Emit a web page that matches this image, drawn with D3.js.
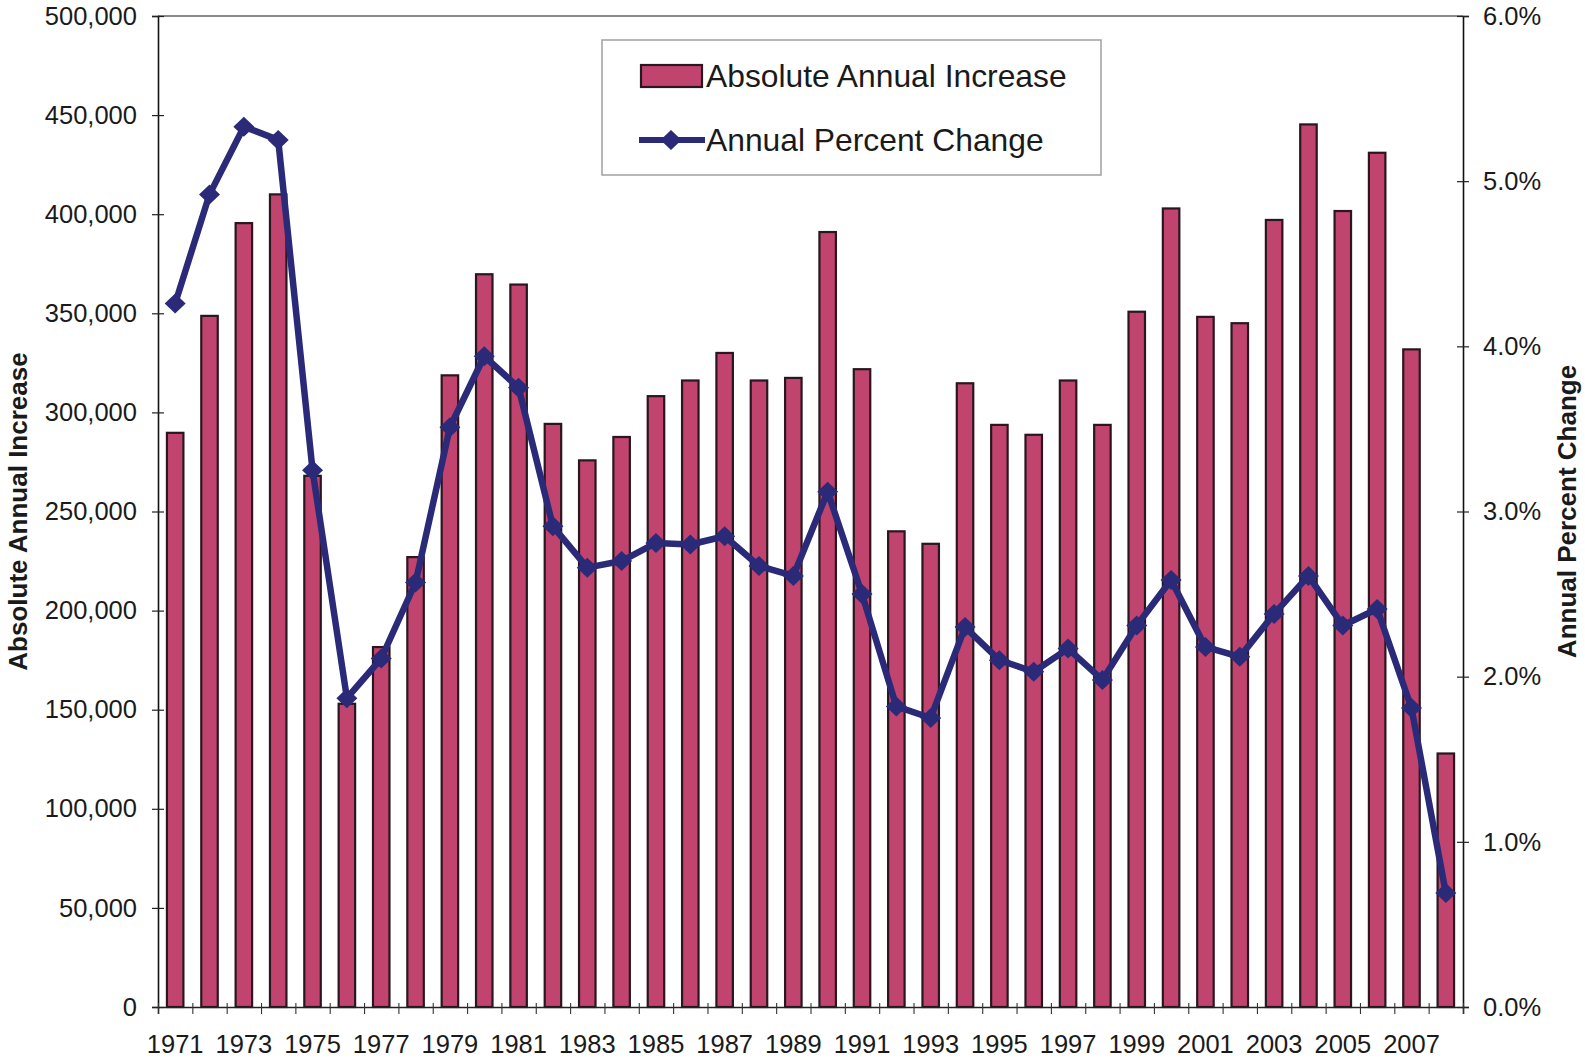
<!DOCTYPE html>
<html>
<head>
<meta charset="utf-8">
<script src="https://cdn.jsdelivr.net/npm/d3@7"></script>
<style>
  html, body { margin: 0; padding: 0; background: #fff; }
  svg { display: block; font-family: "Liberation Sans", Arial, Helvetica, sans-serif; }
</style>
</head>
<body>
<svg id="chart" width="1585" height="1062"></svg>
<script>
// Years shown on the category axis
const years = [1971, 1972, 1973, 1974, 1975, 1976, 1977, 1978, 1979, 1980,
               1981, 1982, 1983, 1984, 1985, 1986, 1987, 1988, 1989, 1990,
               1991, 1992, 1993, 1994, 1995, 1996, 1997, 1998, 1999, 2000,
               2001, 2002, 2003, 2004, 2005, 2006, 2007, 2008];

// Absolute annual increase (persons)
const absoluteIncrease = [289700, 348700, 395500, 410000, 268000, 153000, 181600, 227000, 318700, 369700,
                          364500, 294200, 275800, 287600, 308200, 316100, 330000, 316100, 317400, 391000,
                          321800, 240000, 233700, 314700, 293700, 288700, 316100, 293700, 350800, 402900,
                          348200, 345000, 397100, 445300, 401600, 431000, 331800, 127900];

// Annual percent change (%)
const percentChange = [4.26, 4.92, 5.33, 5.25, 3.25, 1.87, 2.11, 2.57, 3.51, 3.94,
                       3.75, 2.91, 2.66, 2.70, 2.81, 2.80, 2.85, 2.67, 2.61, 3.12,
                       2.50, 1.82, 1.75, 2.30, 2.10, 2.03, 2.17, 1.98, 2.31, 2.585,
                       2.18, 2.12, 2.38, 2.61, 2.31, 2.41, 1.81, 0.69];

// Axis ticks
const leftTicks = [0, 50000, 100000, 150000, 200000, 250000, 300000, 350000, 400000, 450000, 500000];
const rightTicks = [0, 1, 2, 3, 4, 5, 6];
const yearLabels = [1971, 1973, 1975, 1977, 1979, 1981, 1983, 1985, 1987, 1989,
                    1991, 1993, 1995, 1997, 1999, 2001, 2003, 2005, 2007];

const seriesNames = ["Absolute Annual Increase", "Annual Percent Change"];
const axisTitles = ["Absolute Annual Increase", "Annual Percent Change"];

const BAR_FILL = "#c0446e";
const BAR_STROKE = "#2a1620";
const LINE_COLOR = "#2b2a78";
const FONT = 25.5;

const svg = d3.select("#chart");
const plot = { left: 158, right: 1463, top: 16, bottom: 1007 };

const x = d3.scaleBand()
  .domain(years)
  .range([plot.left, plot.right])
  .paddingInner(0.52)
  .paddingOuter(0.26);

// index scale for tick marks placed between categories
const xEdge = d3.scaleLinear().domain([0, years.length]).range([plot.left, plot.right]);

const yLeft = d3.scaleLinear().domain([0, 500000]).range([plot.bottom, plot.top]);
const yRight = d3.scaleLinear().domain([0, 6]).range([plot.bottom, plot.top]);

// top frame line
svg.append("line")
  .attr("x1", plot.left).attr("x2", plot.right)
  .attr("y1", plot.top).attr("y2", plot.top)
  .attr("stroke", "#8a8a8a").attr("stroke-width", 2);

// bars
svg.append("g").selectAll("rect")
  .data(years)
  .join("rect")
  .attr("x", d => x(d))
  .attr("width", x.bandwidth())
  .attr("y", (d, i) => yLeft(absoluteIncrease[i]))
  .attr("height", (d, i) => yLeft(0) - yLeft(absoluteIncrease[i]))
  .attr("fill", BAR_FILL)
  .attr("stroke", BAR_STROKE)
  .attr("stroke-width", 2.2);

// left axis
const gLeft = svg.append("g")
  .attr("transform", `translate(${plot.left},0)`)
  .call(d3.axisLeft(yLeft).tickValues(leftTicks).tickSize(6).tickPadding(15)
    .tickFormat(d3.format(",")));
gLeft.select(".domain").attr("stroke", "#111").attr("stroke-width", 1.6);
gLeft.selectAll(".tick line").attr("x1", 6).attr("x2", -6).attr("stroke", "#222").attr("stroke-width", 1.2);
gLeft.selectAll(".tick text").attr("font-size", FONT).attr("fill", "#1a1a1a");

// right axis
const gRight = svg.append("g")
  .attr("transform", `translate(${plot.right},0)`)
  .call(d3.axisRight(yRight).tickValues(rightTicks).tickSize(6).tickPadding(14)
    .tickFormat(d => d3.format(".1f")(d) + "%"));
gRight.select(".domain").attr("stroke", "#111").attr("stroke-width", 1.6);
gRight.selectAll(".tick line").attr("x1", -6).attr("x2", 6).attr("stroke", "#222").attr("stroke-width", 1.2);
gRight.selectAll(".tick text").attr("font-size", FONT).attr("fill", "#1a1a1a");

// bottom axis: tick marks between categories
const gTicks = svg.append("g")
  .attr("transform", `translate(0,${plot.bottom})`)
  .call(d3.axisBottom(xEdge).tickValues(d3.range(0, years.length + 1)).tickSize(7).tickFormat(""));
gTicks.select(".domain").attr("stroke", "#222").attr("stroke-width", 1.6);
gTicks.selectAll(".tick line").attr("y1", -4).attr("stroke", "#333").attr("stroke-width", 1.1);

// bottom axis: year labels
const gYears = svg.append("g")
  .attr("transform", `translate(0,${plot.bottom})`)
  .call(d3.axisBottom(x).tickValues(yearLabels).tickSize(0).tickPadding(28));
gYears.select(".domain").remove();
gYears.selectAll(".tick text").attr("font-size", FONT).attr("fill", "#1a1a1a");

// percent change line
const line = d3.line()
  .x((d, i) => x(years[i]) + x.bandwidth() / 2)
  .y(d => yRight(d));

svg.append("path")
  .datum(percentChange)
  .attr("d", line)
  .attr("fill", "none")
  .attr("stroke", LINE_COLOR)
  .attr("stroke-width", 6.5)
  .attr("stroke-linejoin", "round");

const diamond = "M0,-10L10.5,0L0,10L-10.5,0Z";
svg.append("g").selectAll("path")
  .data(percentChange)
  .join("path")
  .attr("d", diamond)
  .attr("transform", (d, i) => `translate(${x(years[i]) + x.bandwidth() / 2},${yRight(d)})`)
  .attr("fill", LINE_COLOR);

// axis titles
svg.append("text")
  .attr("transform", `translate(27,${(plot.top + plot.bottom) / 2}) rotate(-90)`)
  .attr("text-anchor", "middle")
  .attr("font-size", 26)
  .attr("font-weight", "bold")
  .attr("fill", "#1a1a1a")
  .text(axisTitles[0]);

svg.append("text")
  .attr("transform", `translate(1576,${(plot.top + plot.bottom) / 2}) rotate(-90)`)
  .attr("text-anchor", "middle")
  .attr("font-size", 26)
  .attr("font-weight", "bold")
  .attr("fill", "#1a1a1a")
  .text(axisTitles[1]);

// legend
const legend = svg.append("g");
legend.append("rect")
  .attr("x", 602).attr("y", 40).attr("width", 499).attr("height", 135)
  .attr("fill", "#fff").attr("stroke", "#a0a0a0").attr("stroke-width", 1.5);

legend.append("rect")
  .attr("x", 641).attr("y", 65).attr("width", 61).attr("height", 22)
  .attr("fill", BAR_FILL).attr("stroke", BAR_STROKE).attr("stroke-width", 2.2);
legend.append("text")
  .attr("x", 706).attr("y", 76).attr("dy", "0.35em")
  .attr("font-size", 31.8).attr("fill", "#1a1a1a")
  .text(seriesNames[0]);

legend.append("line")
  .attr("x1", 639).attr("x2", 705).attr("y1", 140).attr("y2", 140)
  .attr("stroke", LINE_COLOR).attr("stroke-width", 6);
legend.append("path")
  .attr("d", diamond)
  .attr("transform", "translate(671,140)")
  .attr("fill", LINE_COLOR);
legend.append("text")
  .attr("x", 706).attr("y", 140).attr("dy", "0.35em")
  .attr("font-size", 31.8).attr("fill", "#1a1a1a")
  .text(seriesNames[1]);
</script>
</body>
</html>
